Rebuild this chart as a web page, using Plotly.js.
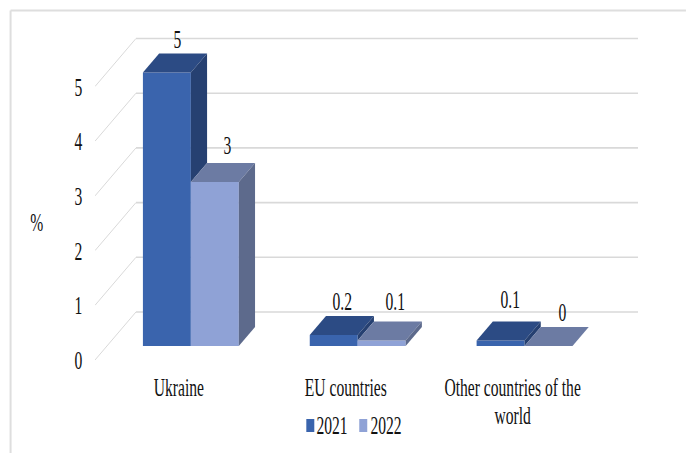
<!DOCTYPE html>
<html>
<head>
<meta charset="utf-8">
<script src="https://cdn.plot.ly/plotly-3.0.1.min.js"></script>
<style>html,body{margin:0;padding:0;background:#fff;overflow:hidden}</style>
</head>
<body>
<div id="chart" style="width:686px;height:453px"></div>
<script>
// Share of exports by destination, drawn as an oblique 3-D column chart
const categories = ['Ukraine', 'EU countries', 'Other countries of the<br>world'];
const seriesNames = ['2021', '2022'];
const values2021 = [5, 0.2, 0.1];
const values2022 = [3, 0.1, 0];
const yTicks = [0, 1, 2, 3, 4, 5];

const frontColors = ['#3A64AD', '#8FA2D6'];
const topColors = ['#2C4B84', '#6C7BA3'];
const sideColors = ['#264071', '#5D6A8C'];
const gridColor = '#D9D9D9';
const textColor = '#111111';
const FONT = 'Liberation Serif';
const FONT_SIZE = 26;

// Page geometry
const W = 686, H = 453;
const plotL = 94.5, plotR = 640, plotT = 30, plotB = 360;
const firstCatPx = 178.5, catStepPx = 167, unitPx = 54.7;

// Oblique projection: depth 0 is the floor's front edge, depth 1 its back edge
const depthX = 41 / catStepPx, depthY = 48 / unitPx;
const barNear = 0.2917, barFar = 0.6875;
const barWidth = 48 / catStepPx;
const xLeft = (plotL - firstCatPx) / catStepPx;
const xRight = (plotR - firstCatPx) / catStepPx;
const gridEnd = (638 - firstCatPx) / catStepPx;
const yTop = (plotB - plotT) / unitPx;

const xAt = (cat, depth) => cat + depth * depthX;
const yAt = (val, depth) => val + depth * depthY;
const px = p => (p - plotL) / (plotR - plotL);
const py = p => (plotB - p) / (plotB - plotT);

const catIdx = categories.map((_, i) => i);
const series = [values2021, values2022];
const traces = [];

// Front faces are ordinary bars standing on the raised floor plane
series.forEach((vals, s) => {
  traces.push({
    type: 'bar', name: seriesNames[s],
    x: catIdx.map(i => xAt(i, barNear)),
    y: vals,
    base: catIdx.map(() => yAt(0, barNear)),
    width: barWidth,
    offset: s === 0 ? -barWidth : 0,
    marker: {color: frontColors[s], line: {width: 0}},
    hoverinfo: 'skip', showlegend: false
  });
});

function face(xs, ys, color) {
  traces.push({
    type: 'scatter', mode: 'lines', x: xs, y: ys, fill: 'toself',
    fillcolor: color, line: {width: 0, color: color},
    hoverinfo: 'skip', showlegend: false
  });
}

// Top and side faces; the 2021 side only shows above the neighbouring 2022 column
series.forEach((vals, s) => {
  vals.forEach((v, i) => {
    const x0 = xAt(i, barNear) + (s === 0 ? -barWidth : 0);
    const x1 = x0 + barWidth;
    const dx = (barFar - barNear) * depthX;
    const top0 = yAt(v, barNear), top1 = yAt(v, barFar);
    face([x0, x1, x1 + dx, x0 + dx, x0], [top0, top0, top1, top1, top0], topColors[s]);
    const low = s === 0 ? values2022[i] : 0;
    const low0 = yAt(low, barNear), low1 = yAt(low, barFar);
    face([x1, x1 + dx, x1 + dx, x1, x1], [top0, top1, low1, low0, top0], sideColors[s]);
  });
});

// Wall and floor gridlines run behind the columns
const shapes = [];
yTicks.forEach(v => {
  const common = {type: 'line', xref: 'x', yref: 'y', layer: 'below'};
  shapes.push(Object.assign({}, common, {
    x0: xLeft, y0: v, x1: xAt(xLeft, 1), y1: yAt(v, 1),
    line: {color: gridColor, width: 1}
  }));
  shapes.push(Object.assign({}, common, {
    x0: xAt(xLeft, 1), y0: yAt(v, 1), x1: gridEnd, y1: yAt(v, 1),
    line: {color: gridColor, width: 1.6}
  }));
});

// Outer frame: top and left edges only
const frame = {type: 'line', xref: 'paper', yref: 'paper', layer: 'below',
  line: {color: '#DEDEDE', width: 2}};
shapes.push(Object.assign({}, frame, {x0: px(10), y0: py(10.5), x1: px(W), y1: py(10.5)}));
shapes.push(Object.assign({}, frame, {x0: px(10), y0: py(10.5), x1: px(10), y1: py(H)}));

const textFont = {family: FONT, size: FONT_SIZE, color: textColor};
const annotations = [];

// Value labels above each column, with small nudges to clear the top faces
const labelNudgeX = [[2, 1, 2], [5, 6, 6]];
const labelNudgeY = [[14, 15, 22], [17, 20, 15]];
series.forEach((vals, s) => {
  vals.forEach((v, i) => {
    const x0 = xAt(i, barNear) + (s === 0 ? -barWidth : 0);
    annotations.push({
      x: x0 + barWidth / 2 + (barFar - barNear) * depthX / 2,
      y: yAt(v, barFar),
      xref: 'x', yref: 'y', text: String(v), showarrow: false,
      xanchor: 'center', yanchor: 'middle',
      xshift: labelNudgeX[s][i], yshift: labelNudgeY[s][i],
      font: textFont
    });
  });
});

// Axis unit
annotations.push({x: px(36.5), y: py(222), xref: 'paper', yref: 'paper', text: '%',
  showarrow: false, xanchor: 'center', yanchor: 'middle', font: textFont});

// Legend row
const legendSwatchX = [306, 359], legendTextX = [332, 385.5];
seriesNames.forEach((n, s) => {
  shapes.push({type: 'rect', xref: 'paper', yref: 'paper', layer: 'above',
    x0: px(legendSwatchX[s]), x1: px(legendSwatchX[s] + 8), y0: py(432), y1: py(419),
    fillcolor: frontColors[s], line: {width: 0}});
  annotations.push({x: px(legendTextX[s]), y: py(425), xref: 'paper', yref: 'paper', text: n,
    showarrow: false, xanchor: 'center', yanchor: 'middle', font: textFont});
});

const layout = {
  width: W, height: H,
  margin: {l: plotL, r: W - plotR, t: plotT, b: H - plotB, pad: 0},
  paper_bgcolor: '#FFFFFF', plot_bgcolor: 'rgba(0,0,0,0)',
  barmode: 'overlay', showlegend: false,
  font: {family: FONT, size: FONT_SIZE, color: textColor},
  xaxis: {range: [xLeft, xRight], tickmode: 'array', tickvals: catIdx, ticktext: categories,
    showgrid: false, zeroline: false, showline: false, ticks: '', ticklabelstandoff: 9,
    tickangle: 0, tickfont: textFont, fixedrange: true},
  yaxis: {range: [0, yTop], tickmode: 'array', tickvals: yTicks, ticktext: yTicks.map(String),
    showgrid: false, zeroline: false, showline: false, ticks: '', ticklabelstandoff: 9,
    tickfont: textFont, fixedrange: true},
  shapes: shapes, annotations: annotations
};

// The typeface is set tall and narrow, so every label is squeezed horizontally about its centre
function condenseLabels() {
  const squeeze = 0.6;
  document.querySelectorAll('#chart .xtick text, #chart .ytick text, #chart .annotation-text').forEach(t => {
    t.querySelectorAll('tspan.line').forEach((line, n) => { if (n > 0) line.setAttribute('dy', (n * 1.06) + 'em'); });
    const box = t.getBBox();
    const cx = box.x + box.width / 2;
    const prior = t.getAttribute('transform') || '';
    t.setAttribute('transform', `${prior} translate(${cx},0) scale(${squeeze},1) translate(${-cx},0)`);
  });
}

Plotly.newPlot('chart', traces, layout, {displayModeBar: false, staticPlot: true}).then(condenseLabels);
</script>
</body>
</html>
